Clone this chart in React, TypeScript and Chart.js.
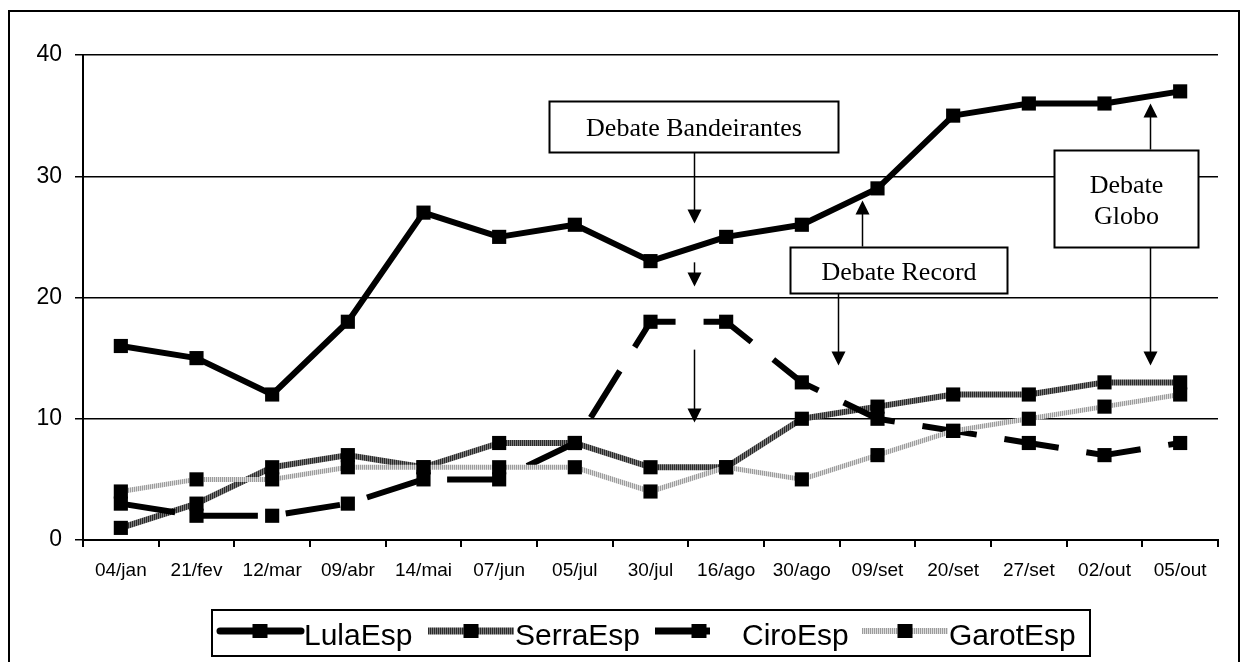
import { useEffect, useRef } from "react";
import { Chart, registerables } from "chart.js";

Chart.register(...registerables);

// Survey dates (2002 campaign)
const categories = [
  "04/jan", "21/fev", "12/mar", "09/abr", "14/mai", "07/jun", "05/jul", "30/jul",
  "16/ago", "30/ago", "09/set", "20/set", "27/set", "02/out", "05/out",
];

// Spontaneous vote intention (%) per candidate
const lulaEsp = [16, 15, 12, 18, 27, 25, 26, 23, 25, 26, 29, 35, 36, 36, 37];
const serraEsp = [1, 3, 6, 7, 6, 8, 8, 6, 6, 10, 11, 12, 12, 13, 13];
const ciroEsp = [3, 2, 2, 3, 5, 5, 8, 18, 18, 13, 10, 9, 8, 7, 8];
const garotEsp = [4, 5, 5, 6, 6, 6, 6, 4, 6, 5, 7, 9, 10, 11, 12];

const yMin = 0;
const yMax = 40;
const yStep = 10;

// Debate call-outs: boxes in (category index, value) units, arrows from -> tip
const debateBoxes = [
  { lines: ["Debate Bandeirantes"], x0: 5.66, x1: 9.48, y0: 36.2, y1: 32.0 },
  { lines: ["Debate Record"], x0: 8.84, x1: 11.71, y0: 24.2, y1: 20.4 },
  { lines: ["Debate", "Globo"], x0: 12.33, x1: 14.24, y0: 32.2, y1: 24.2 },
];
const debateArrows = [
  { x: 7.575, from: 32.0, to: 26.1 },
  { x: 7.575, from: 22.9, to: 20.9 },
  { x: 7.575, from: 15.7, to: 9.7 },
  { x: 9.795, from: 24.2, to: 28.0 },
  { x: 9.478, from: 20.4, to: 14.4 },
  { x: 13.6, from: 32.2, to: 36.0 },
  { x: 13.6, from: 24.2, to: 14.4 },
];

const SANS = "'Liberation Sans', Arial, sans-serif";
const SERIF = "'Liberation Serif', 'Times New Roman', serif";

function stripes(a: string, b: string): CanvasPattern {
  const c = document.createElement("canvas");
  c.width = 2;
  c.height = 1;
  const g = c.getContext("2d")!;
  g.fillStyle = a;
  g.fillRect(0, 0, 1, 1);
  g.fillStyle = b;
  g.fillRect(1, 0, 1, 1);
  return g.createPattern(c, "repeat")!;
}

export default function App() {
  const canvasRef = useRef<HTMLCanvasElement | null>(null);

  useEffect(() => {
    const canvas = canvasRef.current;
    if (!canvas) return;

    const serraStroke = stripes("#2a2a2a", "#7a7a7a");
    const garotStroke = stripes("#9c9c9c", "#dedede");

    const series = [
      { label: "LulaEsp", data: lulaEsp, color: "#000" as any, width: 6, dash: [] as number[], cap: "round" as CanvasLineCap, sample: 84 },
      { label: "SerraEsp", data: serraEsp, color: serraStroke as any, width: 6, dash: [] as number[], cap: "butt" as CanvasLineCap, sample: 86 },
      { label: "CiroEsp", data: ciroEsp, color: "#000" as any, width: 6, dash: [55, 28], cap: "butt" as CanvasLineCap, sample: 55 },
      { label: "GarotEsp", data: garotEsp, color: garotStroke as any, width: 5, dash: [] as number[], cap: "butt" as CanvasLineCap, sample: 86 },
    ];

    const framePlugin = {
      id: "frame",
      beforeDraw(chart: any) {
        const ctx = chart.ctx as CanvasRenderingContext2D;
        ctx.save();
        ctx.fillStyle = "#fff";
        ctx.fillRect(0, 0, chart.width, chart.height);
        ctx.strokeStyle = "#000";
        ctx.lineWidth = 2;
        ctx.strokeRect(9, 11, 1230, 660);
        ctx.restore();
      },
    };

    const calloutPlugin = {
      id: "callouts",
      afterDatasetsDraw(chart: any) {
        const ctx = chart.ctx as CanvasRenderingContext2D;
        const xs = chart.scales.x;
        const ys = chart.scales.y;
        const px = (i: number) => xs.getPixelForValue(i);
        const py = (v: number) => ys.getPixelForValue(v);
        ctx.save();
        ctx.strokeStyle = "#000";
        ctx.fillStyle = "#000";
        ctx.lineWidth = 1.5;
        for (const a of debateArrows) {
          const x = Math.round(px(a.x)) + 0.5;
          const y0 = py(a.from);
          const y1 = py(a.to);
          const dir = Math.sign(y1 - y0);
          ctx.beginPath();
          ctx.moveTo(x, y0);
          ctx.lineTo(x, y1 - dir * 12);
          ctx.stroke();
          ctx.beginPath();
          ctx.moveTo(x, y1);
          ctx.lineTo(x - 7, y1 - dir * 14);
          ctx.lineTo(x + 7, y1 - dir * 14);
          ctx.closePath();
          ctx.fill();
        }
        for (const b of debateBoxes) {
          const l = Math.round(px(b.x0)) + 0.5;
          const r = Math.round(px(b.x1)) + 0.5;
          const t = Math.round(py(b.y0)) + 0.5;
          const btm = Math.round(py(b.y1)) + 0.5;
          ctx.fillStyle = "#fff";
          ctx.fillRect(l, t, r - l, btm - t);
          ctx.strokeStyle = "#000";
          ctx.lineWidth = 2;
          ctx.strokeRect(l, t, r - l, btm - t);
          ctx.fillStyle = "#000";
          ctx.font = `26px ${SERIF}`;
          ctx.textAlign = "center";
          ctx.textBaseline = "alphabetic";
          const cx = (l + r) / 2;
          const lh = 31;
          const n = b.lines.length;
          const mid = (t + btm) / 2;
          b.lines.forEach((s, k) => {
            const base = mid + 9 + (k - (n - 1) / 2) * lh;
            ctx.fillText(s, cx, base);
          });
        }
        ctx.restore();
      },
    };

    const legendItems = [
      { start: 217, marker: 260, text: 304 },
      { start: 428, marker: 471, text: 515 },
      { start: 655, marker: 699, text: 742 },
      { start: 862, marker: 905, text: 949 },
    ];

    const legendPlugin = {
      id: "boxLegend",
      afterDraw(chart: any) {
        const ctx = chart.ctx as CanvasRenderingContext2D;
        ctx.save();
        ctx.strokeStyle = "#000";
        ctx.lineWidth = 2;
        ctx.strokeRect(212, 610, 878, 46);
        const cy = 631;
        series.forEach((s, k) => {
          const it = legendItems[k];
          ctx.save();
          ctx.strokeStyle = s.color;
          ctx.lineWidth = s.width + 1;
          ctx.lineCap = s.cap;
          ctx.beginPath();
          ctx.moveTo(it.start + (s.cap === "round" ? 3 : 0), cy);
          ctx.lineTo(it.start + s.sample, cy);
          ctx.stroke();
          ctx.restore();
          ctx.fillStyle = "#000";
          ctx.fillRect(it.marker - 7.5, cy - 7, 15, 14);
          ctx.font = `30px ${SANS}`;
          ctx.textAlign = "left";
          ctx.textBaseline = "alphabetic";
          ctx.fillText(s.label, it.text, 645);
        });
        ctx.restore();
      },
    };

    const chart = new Chart(canvas, {
      type: "line",
      data: {
        labels: categories,
        datasets: series.map((s, k) => ({
          label: s.label,
          data: s.data,
          borderColor: s.color,
          backgroundColor: s.color,
          borderWidth: s.width,
          borderDash: s.dash,
          borderCapStyle: "butt",
          borderJoinStyle: "round",
          tension: 0,
          fill: false,
          pointStyle: "rect",
          pointRadius: 10,
          pointHoverRadius: 10,
          pointBackgroundColor: "#000",
          pointBorderColor: "#000",
          pointBorderWidth: 0,
          order: 4 - k,
          clip: false,
        })) as any,
      },
      options: {
        animation: false,
        responsive: true,
        maintainAspectRatio: false,
        events: [],
        layout: { padding: { left: 0, top: 55, right: 28, bottom: 0 } },
        plugins: {
          legend: { display: false },
          tooltip: { enabled: false },
        },
        scales: {
          x: {
            type: "category",
            offset: true,
            grid: {
              display: true,
              drawOnChartArea: false,
              drawTicks: true,
              tickLength: 7,
              offset: true,
              color: "#000",
              lineWidth: 2,
            },
            border: { display: true, color: "#000", width: 2 },
            ticks: {
              color: "#000",
              font: { family: SANS, size: 19 },
              padding: 12,
              maxRotation: 0,
              minRotation: 0,
              autoSkip: false,
            },
            afterFit: (s: any) => {
              s.height = 122;
            },
          },
          y: {
            min: yMin,
            max: yMax,
            ticks: {
              stepSize: yStep,
              color: "#000",
              font: { family: SANS, size: 23 },
              padding: 13,
            },
            grid: { color: "#000", lineWidth: 1.5, tickLength: 8 },
            border: { display: true, color: "#000", width: 2 },
            afterFit: (s: any) => {
              s.width = 83;
            },
          },
        },
      },
      plugins: [framePlugin, calloutPlugin, legendPlugin],
    });

    return () => chart.destroy();
  }, []);

  return (
    <div
      style={{
        position: "absolute",
        left: 0,
        top: 0,
        width: 1246,
        height: 662,
        background: "#fff",
      }}
    >
      <canvas ref={canvasRef} />
    </div>
  );
}
